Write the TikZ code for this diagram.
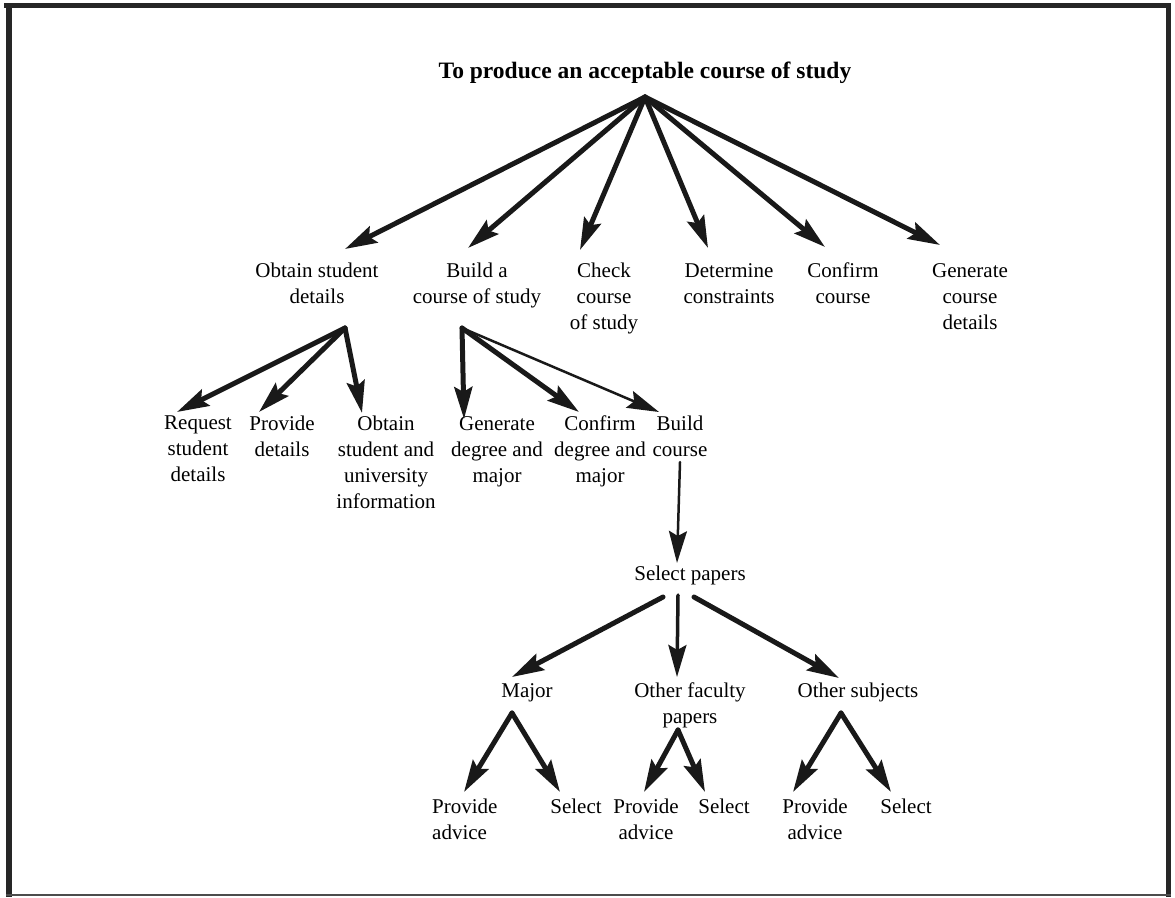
\documentclass[tikz,border=0pt]{standalone}
\usepackage{fontspec}
\setmainfont{Liberation Serif}
\usetikzlibrary{arrows.meta}

\begin{document}
\begin{tikzpicture}[x=1pt,y=-1pt,
    every node/.style={inner sep=0pt,align=center,anchor=north,
      font=\fontsize{21}{26}\selectfont},
    goal/.style={anchor=base,font=\fontsize{23.5}{28}\selectfont\bfseries},
    link/.style={draw=black!90,line width=5pt,line cap=round,
      -{Stealth[length=32pt,width=18pt,inset=5pt]}},
    thinlink/.style={link,line width=2.5pt}]

  % page and frame:
  \useasboundingbox (0,0) rectangle (1175,897);
  \draw[line width=5pt,black!85] (4,5.5) -- (1171,5.5);
  \draw[line width=6pt,black!85] (9,3) -- (9,897);
  \draw[line width=5pt,black!85] (1168.5,3) -- (1168.5,897);
  \draw[line width=2pt,black!70] (6,895) -- (1171,895);

  % the goal and its six tasks:
  \node[goal] (goal) at (645,78) {To produce an acceptable course of study};
  \node (obtain) at (317,263) {Obtain student\\details};
  \node (build) at (477,263) {Build a\\course of study};
  \node (check) at (604,263) {Check\\course\\of study};
  \node (determine) at (729,263) {Determine\\constraints};
  \node (confirm) at (843,263) {Confirm\\course};
  \node (generate) at (970,263) {Generate\\course\\details};

  \coordinate (goal-out) at (645,97);
  \coordinate (obtain-in) at (345,249);
  \coordinate (build-in) at (468,248);
  \coordinate (check-in) at (580,250);
  \coordinate (determine-in) at (708,248);
  \coordinate (confirm-in) at (825,247);
  \coordinate (generate-in) at (940,245);

  \draw[link] (goal-out) -- (obtain-in);
  \draw[link] (goal-out) -- (build-in);
  \draw[link] (goal-out) -- (check-in);
  \draw[link] (goal-out) -- (determine-in);
  \draw[link] (goal-out) -- (confirm-in);
  \draw[link] (goal-out) -- (generate-in);

  % obtaining the details:
  \node (request) at (198,416) {Request\\student\\details};
  \node (provide) at (282,416) {Provide\\details};
  \node (info) at (386,416) {Obtain\\student and\\university\\information};

  \coordinate (obtain-out) at (345,328);
  \coordinate (request-in) at (177,412);
  \coordinate (provide-in) at (259,412);
  \coordinate (info-in) at (362,413);

  \draw[link] (obtain-out) -- (request-in);
  \draw[link] (obtain-out) -- (provide-in);
  \draw[link] (obtain-out) -- (info-in);

  % building the course:
  \node (gendegree) at (497,416) {Generate\\degree and\\major};
  \node (confdegree) at (600,416) {Confirm\\degree and\\major};
  \node (buildcourse) at (680,416) {Build\\course};

  \coordinate (build-out) at (462,328);
  \coordinate (gendegree-in) at (464,419);
  \coordinate (confdegree-in) at (579,412);
  \coordinate (buildcourse-in) at (659,412);

  \draw[link] (build-out) -- (gendegree-in);
  \draw[link] (build-out) -- (confdegree-in);
  \draw[thinlink] (build-out) -- (buildcourse-in);

  % selecting papers:
  \node (select) at (690,566) {Select papers};
  \coordinate (buildcourse-out) at (680,462);
  \coordinate (select-in) at (677,563);
  \draw[thinlink] (buildcourse-out) -- (select-in);

  \node (major) at (527,683) {Major};
  \node (faculty) at (690,683) {Other faculty\\papers};
  \node (subjects) at (858,683) {Other subjects};

  \draw[link] (663,597) coordinate (select-l) -- (512,677) coordinate (major-in);
  \draw[thinlink,line width=3.5pt] (678,595) coordinate (select-m) -- (677,677) coordinate (faculty-in);
  \draw[link] (694,597) coordinate (select-r) -- (839,678) coordinate (subjects-in);

  % advice and selection for each kind of paper:
  \node[align=left,anchor=north west] (advmajor) at (432,799) {Provide\\advice};
  \node (selmajor) at (576,799) {Select};
  \node (advfaculty) at (646,799) {Provide\\advice};
  \node (selfaculty) at (724,799) {Select};
  \node (advsubjects) at (815,799) {Provide\\advice};
  \node (selsubjects) at (906,799) {Select};

  \coordinate (major-out) at (512,713);
  \coordinate (faculty-out) at (678,730);
  \coordinate (subjects-out) at (841,713);

  \draw[link] (major-out) -- (464,792) coordinate (advmajor-in);
  \draw[link] (major-out) -- (560,792) coordinate (selmajor-in);
  \draw[link] (faculty-out) -- (644,792) coordinate (advfaculty-in);
  \draw[link] (faculty-out) -- (705,792) coordinate (selfaculty-in);
  \draw[link] (subjects-out) -- (793,792) coordinate (advsubjects-in);
  \draw[link] (subjects-out) -- (891,792) coordinate (selsubjects-in);

\end{tikzpicture}
\end{document}
